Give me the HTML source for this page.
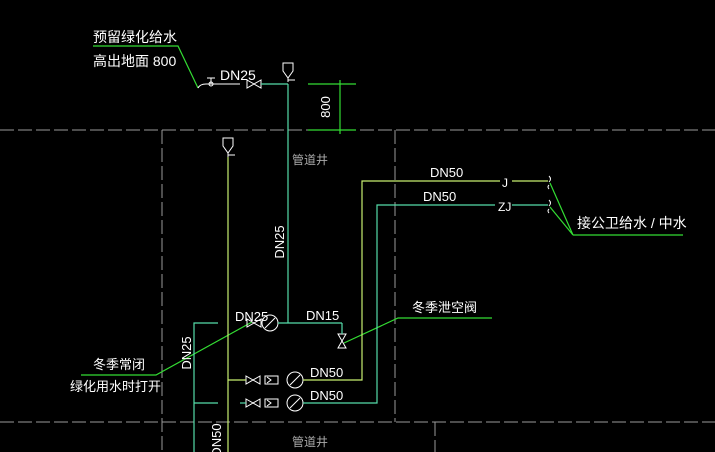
<!DOCTYPE html>
<html><head><meta charset="utf-8"><style>
html,body{margin:0;padding:0;background:#000;width:715px;height:452px;overflow:hidden}
svg{display:block}
text{font-family:"Liberation Sans","Noto Sans CJK SC",sans-serif;fill:#fff}
</style></head><body>
<svg width="715" height="452" viewBox="0 0 715 452" xmlns="http://www.w3.org/2000/svg">
<g stroke="#9a9a9a" stroke-width="1" stroke-dasharray="14,4" fill="none">
<line x1="0" y1="130" x2="715" y2="130"/>
<line x1="0" y1="422" x2="715" y2="422"/>
<line x1="162" y1="130" x2="162" y2="452"/>
<line x1="395" y1="130" x2="395" y2="422"/>
<line x1="435" y1="422" x2="435" y2="452"/>
</g>
<g stroke="#33dd33" stroke-width="1.2" fill="none">
<polyline points="93,46 178,46 198,88"/>
<line x1="308" y1="84" x2="356" y2="84"/>
<line x1="308" y1="130" x2="356" y2="130"/>
<line x1="340" y1="80" x2="340" y2="134"/>
<polyline points="81,375 156,375 252,322"/>
<polyline points="344,343 398,318 492,318"/>
<line x1="550" y1="183" x2="573" y2="235"/>
<line x1="550" y1="207" x2="573" y2="235"/>
<line x1="573" y1="235" x2="683" y2="235"/>
</g>
<g stroke="#fff" stroke-width="1" fill="none">
<path d="M198,88 Q200,84 206,84 L240,84"/>
<line x1="211" y1="78" x2="211" y2="84"/><line x1="207" y1="78" x2="215" y2="78"/><circle cx="211" cy="84" r="2"/>
<path d="M247,80 L254,84 L247,88 Z M261,80 L254,84 L261,88 Z"/>
<path d="M283,63 h10 v8 l-5,7 l-5,-7 z"/><line x1="288" y1="78" x2="288" y2="82"/><line x1="288" y1="80" x2="295" y2="80"/>
<path d="M223,138 h10 v8 l-5,7 l-5,-7 z"/><line x1="228" y1="153" x2="228" y2="157"/><line x1="228" y1="155" x2="235" y2="155"/>
<path d="M247,319 L254,323 L247,327 Z M261,319 L254,323 L261,327 Z"/>
<circle cx="270" cy="323" r="8"/><line x1="265" y1="328" x2="275" y2="318"/>
<path d="M338,334 L346,334 L342,341 Z M338,348 L346,348 L342,341 Z"/>
<path d="M246,376 L253,380 L246,384 Z M260,376 L253,380 L260,384 Z"/>
<rect x="265" y="376" width="13" height="8"/><path d="M267,377 l4,3 l-4,3"/>
<circle cx="295" cy="380" r="8"/><line x1="290" y1="385" x2="300" y2="375"/>
<path d="M246,399 L253,403 L246,407 Z M260,399 L253,403 L260,407 Z"/>
<rect x="265" y="399" width="13" height="8"/><path d="M267,400 l4,3 l-4,3"/>
<circle cx="295" cy="403" r="8"/><line x1="290" y1="408" x2="300" y2="398"/>
<path d="M549,176 q3,3 0,6 M549,185 q-2,2 0,4"/>
<path d="M549,200 q3,3 0,6 M549,209 q-2,2 0,4"/>
</g>
<g stroke="#55ddaa" stroke-width="1.2" fill="none">
<line x1="261" y1="84" x2="288" y2="84"/>
<line x1="288" y1="84" x2="288" y2="323"/>
<line x1="278" y1="323" x2="342" y2="323"/>
<line x1="342" y1="323" x2="342" y2="334"/>
<polyline points="218,323 194,323 194,452"/>
<line x1="194" y1="403" x2="218" y2="403"/>
<line x1="240" y1="403" x2="246" y2="403"/>
<polyline points="303,403 377,403 377,205 495,205"/>
<line x1="512" y1="205" x2="548" y2="205"/>
</g>
<g stroke="#c8f070" stroke-width="1.2" fill="none">
<line x1="228" y1="157" x2="228" y2="452"/>
<line x1="228" y1="380" x2="246" y2="380"/>
<polyline points="303,380 362,380 362,181 500,181"/>
<line x1="512" y1="181" x2="548" y2="181"/>
</g>
<g font-size="14">
<text x="93" y="42">预留绿化给水</text>
<text x="93" y="66">高出地面  800</text>
<text x="220" y="80">DN25</text>
<text x="235" y="321" font-size="13">DN25</text>
<text x="306" y="320" font-size="13">DN15</text>
<text x="310" y="377" font-size="13">DN50</text>
<text x="310" y="400" font-size="13">DN50</text>
<text x="430" y="177" font-size="13">DN50</text>
<text x="423" y="201" font-size="13">DN50</text>
<text x="502" y="187" font-size="12">J</text>
<text x="498" y="211" font-size="12">ZJ</text>
<text x="577" y="228">接公卫给水  / 中水</text>
<text x="412" y="312" font-size="13">冬季泄空阀</text>
<text x="93" y="369" font-size="13">冬季常闭</text>
<text x="70" y="391" font-size="13">绿化用水时打开</text>
<text x="292" y="164" font-size="12" fill="#aaa" style="fill:#aaa">管道井</text>
<text x="292" y="446" font-size="12" style="fill:#aaa">管道井</text>
<text transform="translate(330,107) rotate(-90)" text-anchor="middle" font-size="13">800</text>
<text transform="translate(284,242) rotate(-90)" text-anchor="middle" font-size="13">DN25</text>
<text transform="translate(191,353) rotate(-90)" text-anchor="middle" font-size="13">DN25</text>
<text transform="translate(221,440) rotate(-90)" text-anchor="middle" font-size="13">DN50</text>
</g>
</svg>
</body></html>
